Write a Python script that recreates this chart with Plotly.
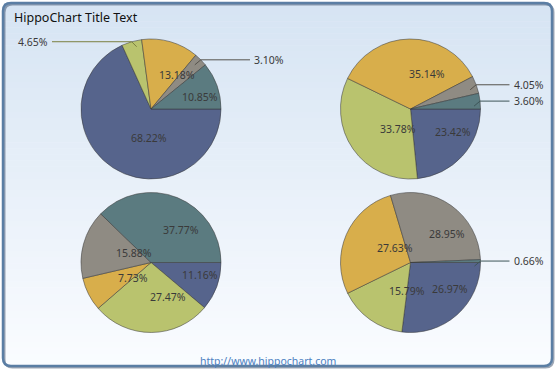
import math
import plotly.graph_objects as go

W, H = 557, 372

# ---- data ----
slice_names = ["Series A", "Series B", "Series C", "Series D", "Series E"]
slice_colors = ["#56648C", "#B9C36E", "#D8AE4B", "#8F8B83", "#5B7B80"]
leader_colors = ["#3a4462", "#7b8040", "#8a6d2a", "#55524c", "#3d5558"]
pie1_values = [68.22, 4.65, 13.18, 3.10, 10.85]
pie2_values = [23.42, 33.78, 35.14, 4.05, 3.60]
pie3_values = [11.16, 27.47, 7.73, 15.88, 37.77]
pie4_values = [26.97, 15.79, 27.63, 28.95, 0.66]
title_text = "HippoChart Title Text"
footer_text = "http://www.hippochart.com"

# ---- layout constants (pixels) ----
R = 70
centers = [(151, 109), (410.5, 109), (151, 262.5), (410.5, 262.5)]
all_values = [pie1_values, pie2_values, pie3_values, pie4_values]
OUTSIDE_LIMIT = 5.0
FONT = "Noto Sans"
LABEL_COLOR = "#3a3a3a"


def px(x):
    return x / W


def py(y):
    return 1 - y / H


fig = go.Figure()
shapes = []
annotations = []

# background gradient inside the frame
top = (0xD6, 0xE4, 0xF3)
bot = (0xFA, 0xFC, 0xFF)
x0f, y0f, x1f, y1f = 3, 3, 552, 366
nb = 60
for i in range(nb):
    t = i / (nb - 1)
    c = tuple(int(round(top[k] + (bot[k] - top[k]) * t)) for k in range(3))
    ya = y0f + (y1f - y0f) * i / nb
    yb = y0f + (y1f - y0f) * (i + 1) / nb + 0.5
    shapes.append(dict(type="rect", xref="paper", yref="paper", layer="below",
                       x0=px(x0f + 1), x1=px(x1f - 1), y0=py(ya), y1=py(min(yb, y1f)),
                       line=dict(width=0), fillcolor="rgb(%d,%d,%d)" % c))


def rounded_path(xa, ya, xb, yb, r):
    pts = [
        ("M", xa + r, ya), ("L", xb - r, ya), ("Q", xb, ya, xb, ya + r),
        ("L", xb, yb - r), ("Q", xb, yb, xb - r, yb), ("L", xa + r, yb),
        ("Q", xa, yb, xa, yb - r), ("L", xa, ya + r), ("Q", xa, ya, xa + r, ya),
    ]
    s = ""
    for p in pts:
        cmd = p[0]
        coords = p[1:]
        parts = []
        for j in range(0, len(coords), 2):
            parts.append("%.5f,%.5f" % (px(coords[j]), py(coords[j + 1])))
        s += cmd + " ".join(parts) + " "
    return s + "Z"


# frame shadow + frame
shapes.append(dict(type="path", xref="paper", yref="paper", layer="above",
                   path=rounded_path(x0f + 1.5, y0f + 1.5, x1f + 1.5, y1f + 1.5, 8),
                   line=dict(color="rgba(40,60,90,0.45)", width=2)))
shapes.append(dict(type="path", xref="paper", yref="paper", layer="above",
                   path=rounded_path(x0f, y0f, x1f, y1f, 8),
                   line=dict(color="#5B7EA4", width=2.5)))

for (cx, cy), vals in zip(centers, all_values):
    fig.add_trace(go.Pie(
        values=vals, labels=slice_names, sort=False, direction="clockwise",
        rotation=90, textinfo="none", hoverinfo="label+value",
        marker=dict(colors=slice_colors, line=dict(color="rgba(55,55,55,0.75)", width=0.7)),
        domain=dict(x=[px(cx - R), px(cx + R)], y=[py(cy + R), py(cy - R)]),
        showlegend=False,
    ))
    total = sum(vals)
    cum = 0.0
    for i, v in enumerate(vals):
        a0 = cum / total * 2 * math.pi
        cum += v
        a1 = cum / total * 2 * math.pi
        mid = (a0 + a1) / 2
        ca, sa = math.cos(mid), math.sin(mid)
        txt = "%.2f%%" % v
        if v >= OUTSIDE_LIMIT:
            ax = cx + 0.5 * R * ca - 3.5
            ay = cy + 0.5 * R * sa
            annotations.append(dict(x=px(ax), y=py(ay), xref="paper", yref="paper",
                                    text=txt, showarrow=False, xanchor="left", yanchor="middle",
                                    font=dict(family=FONT, size=10.5, color=LABEL_COLOR)))
        else:
            ex = cx + R * ca
            ey = cy + R * sa
            right = ca >= 0
            sx = ex - 6 if right else ex + 5
            sy = ey + 5
            lx = cx + (R + 29) * (1 if right else -1)
            lc = leader_colors[i]
            shapes.append(dict(type="path", xref="paper", yref="paper", layer="above",
                               path="M%.5f,%.5f L%.5f,%.5f L%.5f,%.5f" % (
                                   px(sx), py(sy), px(ex), py(ey), px(lx), py(ey)),
                               line=dict(color=lc, width=1)))
            annotations.append(dict(x=px(lx + (2 if right else -2)), y=py(ey),
                                    xref="paper", yref="paper", text=txt, showarrow=False,
                                    xanchor="left" if right else "right", yanchor="middle",
                                    font=dict(family=FONT, size=10.5, color=LABEL_COLOR)))

annotations.append(dict(x=px(12), y=py(18), xref="paper", yref="paper", text=title_text,
                        showarrow=False, xanchor="left", yanchor="middle",
                        font=dict(family=FONT, size=12.5, color="#111111")))
annotations.append(dict(x=px(268), y=py(361), xref="paper", yref="paper", text=footer_text,
                        showarrow=False, xanchor="center", yanchor="middle",
                        font=dict(family=FONT, size=10.5, color="#4C80C2")))

fig.update_layout(
    width=W, height=H, autosize=False,
    margin=dict(l=0, r=0, t=0, b=0),
    paper_bgcolor="white", plot_bgcolor="white",
    shapes=shapes, annotations=annotations,
)

fig.write_html(
    "out.html",
    config={"displayModeBar": False},
    post_script="document.body.style.margin='0';document.body.style.overflow='hidden';",
)
